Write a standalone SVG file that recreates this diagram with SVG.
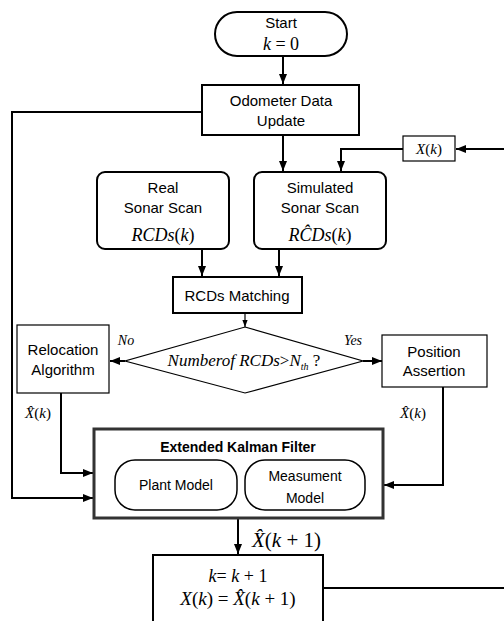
<svg xmlns="http://www.w3.org/2000/svg" width="504" height="621" viewBox="0 0 504 621">
<defs>
<marker id="ah" viewBox="0 0 10 8" refX="10" refY="4" markerWidth="10" markerHeight="8" markerUnits="userSpaceOnUse" orient="auto"><path d="M0,0 L10,4 L0,8 z" fill="#000"/></marker>
<marker id="ahs" viewBox="0 0 8 6" refX="8" refY="3" markerWidth="7" markerHeight="6" markerUnits="userSpaceOnUse" orient="auto"><path d="M0,0 L8,3 L0,6 z" fill="#000"/></marker>
</defs>
<style>
.sans{font-family:"Liberation Sans",Arial,sans-serif;font-size:15px;fill:#000;text-anchor:middle}
.math{font-family:"Liberation Serif","Times New Roman",serif;font-style:italic;font-size:18px;fill:#000;text-anchor:middle}
.up{font-style:normal}
.box{fill:#fff;stroke:#000;stroke-width:2}
.thin{fill:#fff;stroke:#000;stroke-width:1.2}
.ln{fill:none;stroke:#000;stroke-width:2}
</style>
<rect width="504" height="621" fill="#fff"/>
<g id="connectors">
<path class="ln" d="M283,56 V84" marker-end="url(#ah)"/>
<path class="ln" d="M283,135 V171" marker-end="url(#ah)"/>
<path class="ln" d="M504,149 H456" marker-end="url(#ah)"/>
<path class="ln" d="M403,149 H341 V171" marker-end="url(#ah)"/>
<path class="ln" d="M202,112 H12 V498 H93" marker-end="url(#ah)"/>
<path class="ln" d="M202,249 V276" marker-end="url(#ah)"/>
<path class="ln" d="M279,249 V276" marker-end="url(#ah)"/>
<path class="ln" d="M245,313 V327" style="stroke-width:1.2" marker-end="url(#ahs)"/>
<path class="ln" d="M125,361 H110" marker-end="url(#ah)"/>
<path class="ln" d="M363,361 H382" marker-end="url(#ah)"/>
<path class="ln" d="M61,393 V473 H93" marker-end="url(#ah)"/>
<path class="ln" d="M443,387 V485 H384" marker-end="url(#ah)"/>
<path class="ln" d="M238,518 V554" marker-end="url(#ah)"/>
<path class="ln" d="M323,588 H504"/>
</g>
<g id="start">
<rect class="box" x="215" y="12" width="132" height="44" rx="22"/>
<text class="sans" x="281" y="28">Start</text>
<text class="math" x="281" y="50">k <tspan class="up">= 0</tspan></text>
</g>
<g id="odometer">
<rect class="box" x="202" y="85" width="157" height="50"/>
<text class="sans" x="281" y="106">Odometer Data</text>
<text class="sans" x="281" y="126">Update</text>
</g>
<g id="xk">
<rect class="thin" x="403" y="136" width="52" height="25"/>
<text class="math" x="429" y="154" style="font-size:15px">X<tspan class="up">(</tspan>k<tspan class="up">)</tspan></text>
</g>
<g id="real">
<rect class="box" x="97" y="172" width="132" height="77" rx="8"/>
<text class="sans" x="163" y="193">Real</text>
<text class="sans" x="163" y="213">Sonar Scan</text>
<text class="math" x="163" y="241">RCDs<tspan class="up">(</tspan>k<tspan class="up">)</tspan></text>
</g>
<g id="simulated">
<rect class="box" x="254" y="172" width="132" height="77" rx="8"/>
<text class="sans" x="320" y="193">Simulated</text>
<text class="sans" x="320" y="213">Sonar Scan</text>
<text class="math" x="320" y="241">RĈDs<tspan class="up">(</tspan>k<tspan class="up">)</tspan></text>
</g>
<g id="matching">
<rect class="box" x="173" y="277" width="129" height="36"/>
<text class="sans" x="237" y="301">RCDs Matching</text>
</g>
<g id="decision">
<path d="M245,327 L363,361 L245,393 L125,361 z" fill="#fff" stroke="#000" stroke-width="1.2"/>
<text class="math" x="244" y="366" style="font-size:17px">Numberof RCDs<tspan class="up">&gt;</tspan>N<tspan style="font-size:10px" dy="4">th</tspan><tspan class="up" dy="-4"> ?</tspan></text>
<text class="math" x="126" y="345" style="font-size:14px">No</text>
<text class="math" x="353" y="345" style="font-size:14px">Yes</text>
</g>
<g id="relocation">
<rect class="thin" x="17" y="325" width="92" height="68"/>
<text class="sans" x="63" y="355">Relocation</text>
<text class="sans" x="63" y="375">Algorithm</text>
<text class="math" x="38" y="418" style="font-size:15px">X̂<tspan class="up">(</tspan>k<tspan class="up">)</tspan></text>
</g>
<g id="position">
<rect class="thin" x="382" y="335" width="105" height="52"/>
<text class="sans" x="434" y="357">Position</text>
<text class="sans" x="434" y="376">Assertion</text>
<text class="math" x="413" y="418" style="font-size:15px">X̂<tspan class="up">(</tspan>k<tspan class="up">)</tspan></text>
</g>
<g id="ekf">
<rect x="94" y="429" width="289" height="89" fill="#fff" stroke="#333" stroke-width="3"/>
<text class="sans" x="238" y="452" style="font-weight:bold;font-size:14px">Extended Kalman Filter</text>
<g id="plant">
<rect class="box" x="115" y="460" width="122" height="50" rx="20" style="stroke-width:1.5"/>
<text class="sans" x="176" y="490" style="font-size:14px">Plant Model</text>
</g>
<g id="measurement">
<rect class="box" x="245" y="460" width="120" height="50" rx="20" style="stroke-width:1.5"/>
<text class="sans" x="305" y="481" style="font-size:14px">Measument</text>
<text class="sans" x="305" y="503" style="font-size:14px">Model</text>
</g>
</g>
<text class="math" x="252" y="547" style="font-size:21px;text-anchor:start">X̂<tspan class="up">(</tspan>k<tspan class="up"> + 1)</tspan></text>
<g id="update">
<rect class="box" x="153" y="555" width="170" height="80"/>
<text class="math" x="238" y="582">k<tspan class="up">= </tspan>k<tspan class="up"> + 1</tspan></text>
<text class="math" x="238" y="605" style="font-size:19px">X<tspan class="up">(</tspan>k<tspan class="up">) = </tspan>X̂<tspan class="up">(</tspan>k<tspan class="up"> + 1)</tspan></text>
</g>
</svg>
